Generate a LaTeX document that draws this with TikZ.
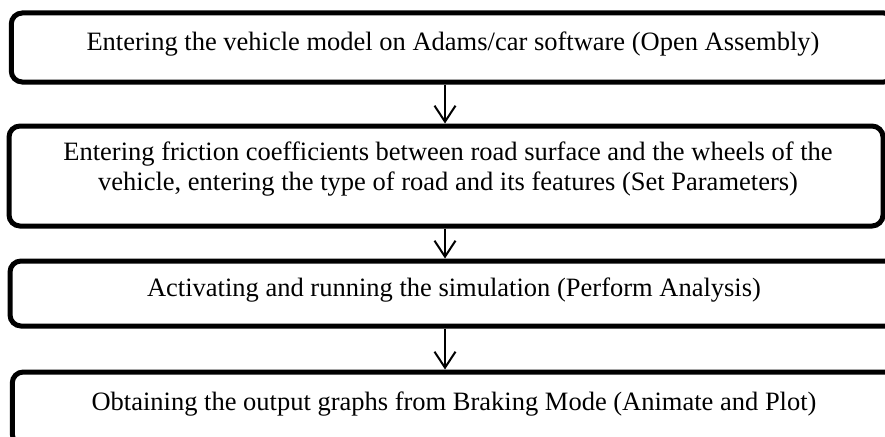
\documentclass[tikz,border=0pt]{standalone}
\usepackage{fontspec}
\setmainfont{Liberation Serif}
\usetikzlibrary{arrows.meta}
\begin{document}
\begin{tikzpicture}[x=1pt,y=-1pt,
  stepbox/.style={draw=black, line width=5pt, rounded corners=11pt, inner sep=0pt, fill=white},
  lbl/.style={anchor=base, inner sep=0pt, font=\fontsize{26.5}{30}\selectfont, align=center},
  arr/.style={line width=2pt, -{Straight Barb[length=16pt,width=21pt,line width=2pt]}}]
\useasboundingbox (0,0) rectangle (885,436);
\fill[white] (0,0) rectangle (885,436);
\clip (0,0) rectangle (885,436);
\node[stepbox, minimum width=883.5pt, minimum height=69pt] (b1) at (453,47.5) {};
\node[stepbox, minimum width=874pt, minimum height=100pt] (b2) at (446,176) {};
\node[stepbox, minimum width=888pt, minimum height=65pt] (b3) at (454,293.5) {};
\node[stepbox, minimum width=883.5pt, minimum height=73pt] (b4) at (454,408.5) {};
\node[lbl] (t1) at (453,51) {Entering the vehicle model on Adams/car software (Open Assembly)};
\node[lbl] (t2a) at (448,160) {Entering friction coefficients between road surface and the wheels of the};
\node[lbl] (t2b) at (448,190) {vehicle, entering the type of road and its features (Set Parameters)};
\node[lbl] (t3) at (454,296) {Activating and running the simulation (Perform Analysis)};
\node[lbl] (t4) at (454,410) {Obtaining the output graphs from Braking Mode (Animate and Plot)};
\coordinate (ax) at (445,0);
\draw[arr] (b1.south -| ax) -- (b2.north -| ax);
\draw[arr] (b2.south -| ax) -- (b3.north -| ax);
\draw[arr] (b3.south -| ax) -- (b4.north -| ax);
\end{tikzpicture}
\end{document}
